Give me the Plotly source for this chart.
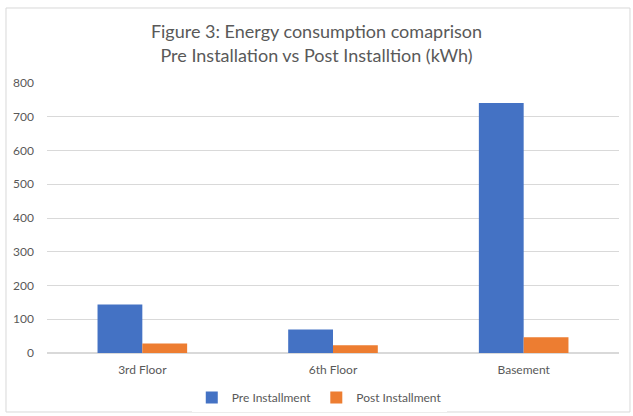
import plotly.graph_objects as go

categories = ["3rd Floor", "6th Floor", "Basement"]
pre_values = [144, 70, 741]
post_values = [28, 23, 47]
series_names = ["Pre Installment", "Post Installment"]
y_ticks = [0, 100, 200, 300, 400, 500, 600, 700, 800]

FONT = "Lato, Open Sans, sans-serif"
GREY = "#595959"

fig = go.Figure()
fig.add_trace(go.Bar(x=categories, y=pre_values, name=series_names[0],
                     marker=dict(color="#4472C4", line=dict(width=0))))
fig.add_trace(go.Bar(x=categories, y=post_values, name=series_names[1],
                     marker=dict(color="#ED7D31", line=dict(width=0))))

fig.update_layout(
    width=633, height=416,
    margin=dict(l=47, r=14, t=83, b=63, autoexpand=False),
    paper_bgcolor="white", plot_bgcolor="white",
    barmode="group", bargap=0.53, bargroupgap=0,
    font=dict(family=FONT, color=GREY, size=12),
    title=dict(text="Figure 3: Energy consumption comaprison<br>Pre Installation vs Post Installtion (kWh)",
               x=0.5, xanchor="center", y=0.908, yanchor="top",
               font=dict(family=FONT, size=18, color=GREY)),
    legend=dict(orientation="h", x=0.476, xanchor="center", y=-0.111, yanchor="top",
                font=dict(size=12, color=GREY), itemwidth=30, traceorder="normal"),
    showlegend=True,
)
fig.update_yaxes(range=[0, 800], tickvals=y_ticks, showgrid=True, gridcolor="#D9D9D9",
                 gridwidth=1, zeroline=True, zerolinecolor="#D9D9D9", showline=False,
                 ticks="", ticklabelstandoff=12, tickfont=dict(size=12, color=GREY),
                 automargin=False)
fig.update_xaxes(showline=False, ticks="", tickfont=dict(size=12, color=GREY),
                 ticklabelstandoff=8, automargin=False)

fig.add_shape(type="rect", xref="paper", yref="paper",
              x0=-0.0717, x1=1.0192, y0=-0.2185, y1=1.2778,
              line=dict(color="#D9D9D9", width=1), fillcolor="rgba(0,0,0,0)", layer="below")

fig.write_html("out.html", config={"displayModeBar": False},
               post_script="document.body.style.margin='0px';document.body.style.overflow='hidden';")
